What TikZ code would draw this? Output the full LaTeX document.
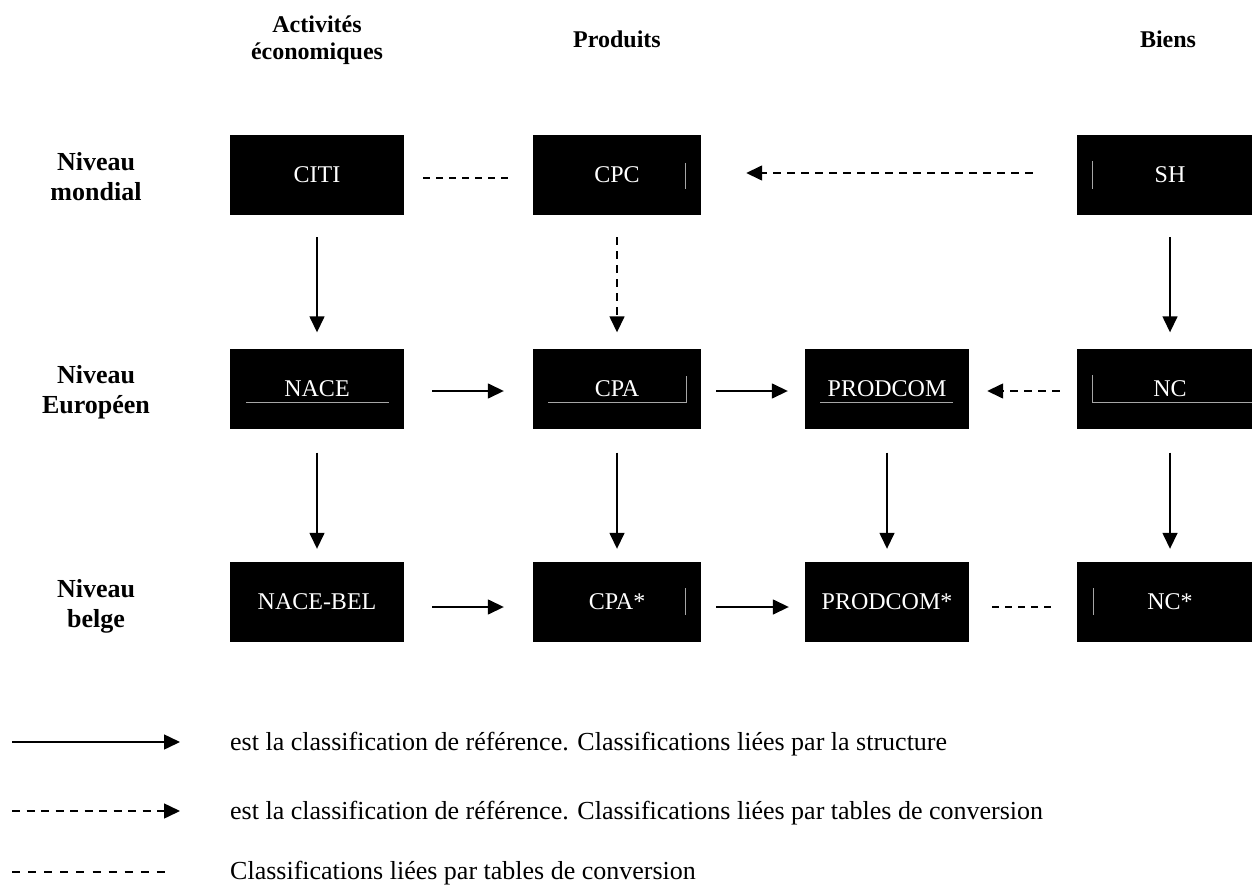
\documentclass[tikz,border=0pt]{standalone}
\usepackage{fontspec}
\setmainfont{Liberation Serif}
\usetikzlibrary{arrows.meta}
\begin{document}
\begin{tikzpicture}[x=1pt,y=-1pt,
  box/.style={fill=black, draw=none, text=white, minimum height=80pt, inner sep=0pt, font=\fontsize{24}{28}\selectfont},
  hdr/.style={font=\fontsize{24}{27}\selectfont\bfseries, align=center, inner sep=0pt},
  lvl/.style={font=\fontsize{26}{30}\selectfont\bfseries, align=center, inner sep=0pt},
  leg/.style={font=\fontsize{26}{30}\selectfont, anchor=base west, inner sep=0pt},
  sarr/.style={line width=1.5pt, -{Triangle[length=16pt,width=15pt]}},
  darr/.style={line width=1.5pt, dash pattern=on 8pt off 6pt, -{Triangle[length=16pt,width=15pt]}},
  dline/.style={line width=1.5pt, dash pattern=on 7pt off 6pt},
  ghost/.style={draw=gray!70, line width=0.8pt}
]
\useasboundingbox (0,0) rectangle (1252,885);

% headers
\node[hdr] (hA) at (317,40) {Activités\\économiques};
\node[hdr, anchor=base] (hP) at (617,48) {Produits};
\node[hdr, anchor=base] (hB) at (1168,48) {Biens};

% level labels
\node[lvl] (r1) at (96,177) {Niveau\\mondial};
\node[lvl] (r2) at (96,392) {Niveau\\Européen};
\node[lvl] (r3) at (96,606) {Niveau\\belge};

% boxes row 1
\node[box, minimum width=174pt] (CITI) at (317,175) {CITI};
\node[box, minimum width=168pt] (CPC) at (617,175) {CPC};
\node[box, minimum width=186pt] (SH) at (1170,175) {SH};
% row 2
\node[box, minimum width=174pt] (NACE) at (317,388.5) {NACE};
\node[box, minimum width=168pt] (CPA) at (617,388.5) {CPA};
\node[box, minimum width=164pt] (PRODCOM) at (887,388.5) {PRODCOM};
\node[box, minimum width=186pt] (NC) at (1170,388.5) {NC};
% row 3
\node[box, minimum width=174pt] (NACEBEL) at (317,602) {NACE-BEL};
\node[box, minimum width=168pt] (CPAs) at (617,602) {CPA*};
\node[box, minimum width=164pt] (PRODCOMs) at (887,602) {PRODCOM*};
\node[box, minimum width=186pt] (NCs) at (1170,602) {NC*};

% faint frame remnants inside boxes
\draw[ghost] (685,163) -- (685,189);
\draw[ghost] (1092,161) -- (1092,189);
\draw[ghost] (246,402) -- (389,402);
\draw[ghost] (548,402) -- (686,402) -- (686,376);
\draw[ghost] (820,402) -- (953,402);
\draw[ghost] (1092,375) -- (1092,402) -- (1252,402);
\draw[ghost] (685,588) -- (685,615);
\draw[ghost] (1093,588) -- (1093,615);

% vertical connectors
\draw[sarr, shorten <=22pt, shorten >=16pt] (CITI.south) -- (NACE.north);
\draw[darr, shorten <=22pt, shorten >=16pt] (CPC.south) -- (CPA.north);
\draw[sarr, shorten <=22pt, shorten >=16pt] (SH.south) -- (NC.north);
\draw[sarr, shorten <=24pt, shorten >=13pt] (NACE.south) -- (NACEBEL.north);
\draw[sarr, shorten <=24pt, shorten >=13pt] (CPA.south) -- (CPAs.north);
\draw[sarr, shorten <=24pt, shorten >=13pt] (PRODCOM.south) -- (PRODCOMs.north);
\draw[sarr, shorten <=24pt, shorten >=13pt] (NC.south) -- (NCs.north);

% horizontal connectors row 1
\draw[dline, shorten <=19pt, shorten >=20pt] ([yshift=-3pt]CITI.east) -- ([yshift=-3pt]CPC.west);
\draw[darr, shorten <=44pt, shorten >=45pt] ([yshift=2pt]SH.west) -- ([yshift=2pt]CPC.east);
% row 2
\draw[sarr, shorten <=28pt, shorten >=29pt] ([yshift=-2.5pt]NACE.east) -- ([yshift=-2.5pt]CPA.west);
\draw[sarr, shorten <=15pt, shorten >=17pt] ([yshift=-2.5pt]CPA.east) -- ([yshift=-2.5pt]PRODCOM.west);
\draw[darr, shorten <=17pt, shorten >=18pt] ([yshift=-2.5pt]NC.west) -- ([yshift=-2.5pt]PRODCOM.east);
% row 3
\draw[sarr, shorten <=28pt, shorten >=29pt] ([yshift=-5pt]NACEBEL.east) -- ([yshift=-5pt]CPAs.west);
\draw[sarr, shorten <=15pt, shorten >=16pt] ([yshift=-5pt]CPAs.east) -- ([yshift=-5pt]PRODCOMs.west);
\draw[dline, shorten <=23pt, shorten >=23pt] ([yshift=-5pt]PRODCOMs.east) -- ([yshift=-5pt]NCs.west);

% legend
\coordinate (l1a) at (12,742);
\coordinate (l1b) at (180,742);
\draw[sarr] (l1a) -- (l1b);
\node[leg] (t1) at (230,750) {est la classification de référence. Classifications liées par la structure};
\coordinate (l2a) at (12,811);
\coordinate (l2b) at (180,811);
\draw[darr, dash pattern=on 8pt off 6.5pt] (l2a) -- (l2b);
\node[leg] (t2) at (230,819) {est la classification de référence. Classifications liées par tables de conversion};
\coordinate (l3a) at (12,872);
\coordinate (l3b) at (168,872);
\draw[dline, dash pattern=on 8pt off 8.1pt] (l3a) -- (l3b);
\node[leg] (t3) at (230,879) {Classifications liées par tables de conversion};
\end{tikzpicture}
\end{document}
